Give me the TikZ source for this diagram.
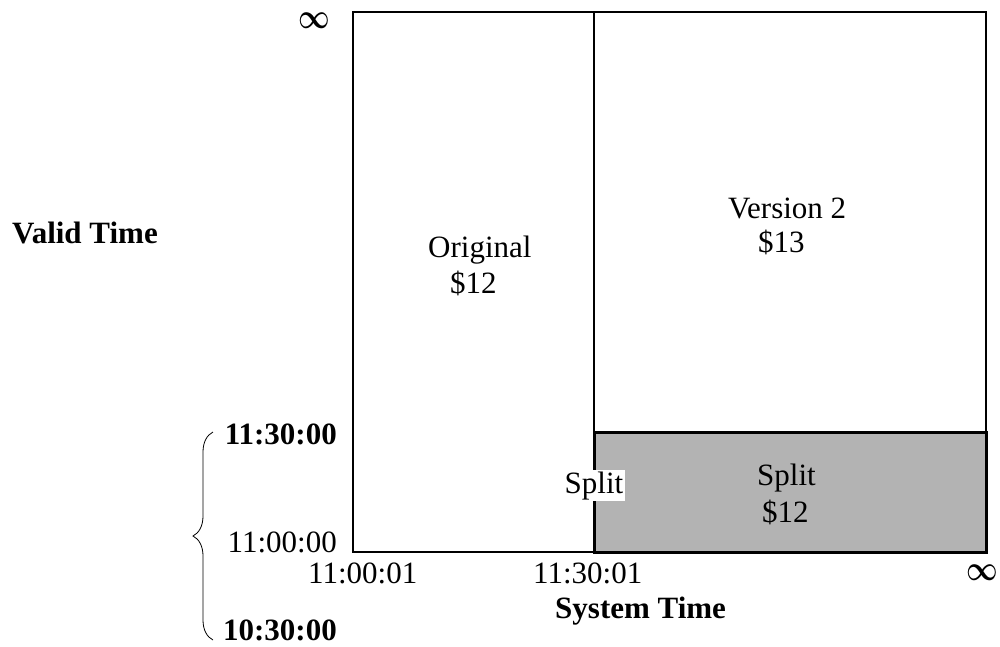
\documentclass[tikz,border=0pt]{standalone}
\usepackage{fontspec}
\setmainfont{Liberation Serif}
\usetikzlibrary{decorations.pathreplacing}
\newcommand{\biginf}{\scalebox{2.75}[3.5]{\boldmath$\infty$}}
\begin{document}
\begin{tikzpicture}[x=1pt,y=-1pt,
  lbl/.style={inner sep=0pt,font=\fontsize{31}{36}\selectfont},
  blbl/.style={inner sep=0pt,font=\fontsize{31}{36}\selectfont\bfseries},
  inflbl/.style={inner sep=0pt},
  thinline/.style={line width=2pt},
  splitbox/.style={line width=3pt,fill={rgb,255:red,179;green,179;blue,179}}]
\useasboundingbox (0,0) rectangle (1000,646);
% outer frame
\coordinate (tl) at (353,12);
\coordinate (br) at (986,552);
\coordinate (mt) at (594,12);
\coordinate (mb) at (594,552);
\draw[thinline] (tl) rectangle (br);
\draw[thinline] (mt) -- (mb);
% split region
\coordinate (stl) at (594,432);
\draw[splitbox] (stl) rectangle (br);
% labels
\node[inflbl] (inftop) at (314,21) {\biginf};
\node[inflbl] (infright) at (982,573) {\biginf};
\node[blbl,anchor=base west] (valid) at (12,243) {Valid Time};
\node[lbl,anchor=base west] (orig) at (428,257) {Original};
\node[lbl,anchor=base west] (origp) at (450,293) {\$12};
\node[lbl,anchor=base west] (ver) at (728,218) {Version 2};
\node[lbl,anchor=base west] (verp) at (758,252) {\$13};
\node[lbl,anchor=base west] (split) at (757,485) {Split};
\node[lbl,anchor=base west] (splitp) at (762,522) {\$12};
\node[lbl,anchor=base west,fill=white,inner sep=1.5pt] (splitl) at (563,493) {Split};
\node[blbl,anchor=base east] (v1130) at (337,444) {11:30:00};
\node[lbl,anchor=base east] (v1100) at (337,552) {11:00:00};
\node[blbl,anchor=base east] (v1030) at (337,640) {10:30:00};
\node[lbl,anchor=base west] (s1100) at (308,583) {11:00:01};
\node[lbl,anchor=base west] (s1130) at (533,583) {11:30:01};
\node[blbl,anchor=base west] (systime) at (555,618) {System Time};
% brace
\coordinate (bt) at (213,432);
\coordinate (bb) at (213,640);
\draw[line width=0.8pt,decorate,decoration={brace,amplitude=20pt,aspect=0.5}] (bb) -- (bt);
\end{tikzpicture}
\end{document}
